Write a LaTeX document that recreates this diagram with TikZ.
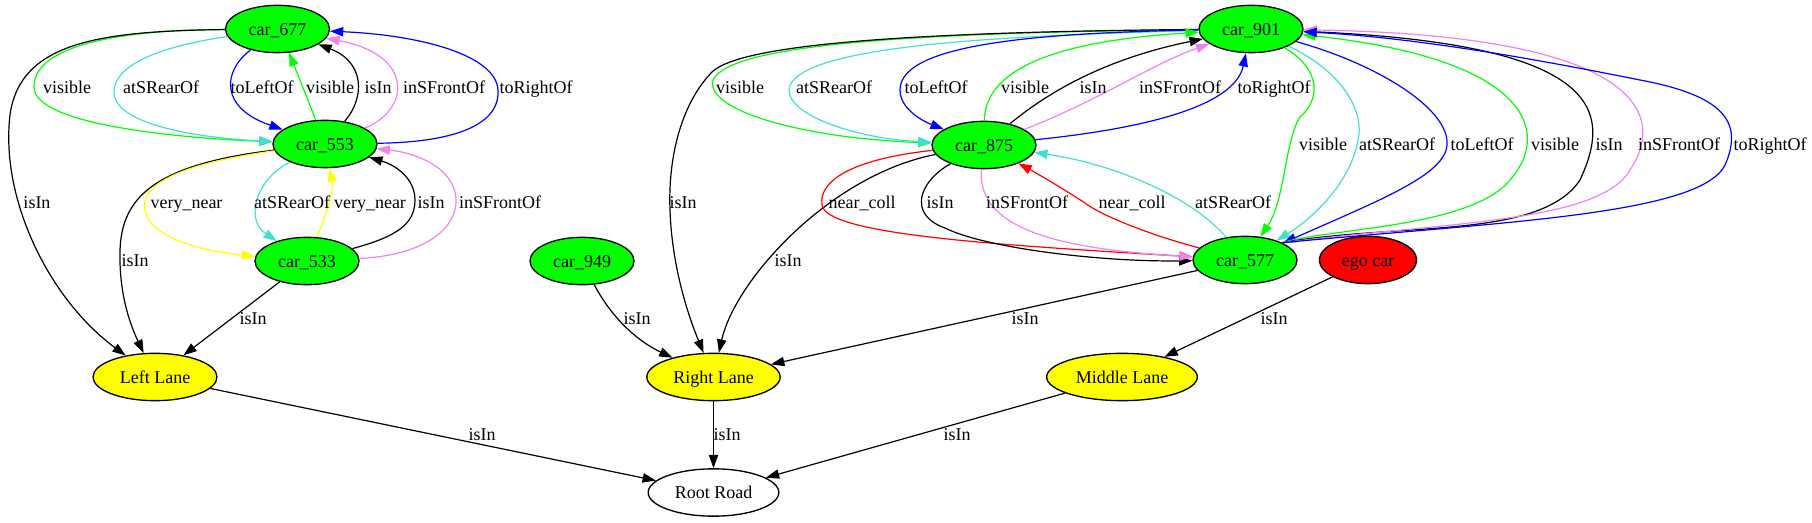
\documentclass[tikz,border=0pt]{standalone}
\usepackage{fontspec}
\setmainfont{Liberation Serif}
\usetikzlibrary{shapes.geometric,arrows.meta}
\definecolor{cgreen}{RGB}{0,255,0}
\definecolor{cturq}{RGB}{64,224,208}
\definecolor{cblue}{RGB}{0,0,255}
\definecolor{cviolet}{RGB}{238,130,238}
\definecolor{cyellow}{RGB}{255,255,0}
\definecolor{cred}{RGB}{255,0,0}
\tikzset{
  gvtext/.style={font=\fontsize{13.5pt}{16pt}\selectfont, text height=9.2pt, text depth=0pt},
  gvnode/.style={ellipse, draw=black, line width=1pt, inner sep=0pt, minimum height=35.5pt, gvtext},
  carnode/.style={gvnode, fill=cgreen, minimum width=78pt},
  egonode/.style={gvnode, fill=cred, minimum width=73pt},
  lanenode/.style={gvnode, fill=cyellow},
  roadnode/.style={gvnode, fill=white},
  lab/.style={inner sep=0pt, gvtext},
  edg/.style={line width=0.9pt, -{Triangle[length=10pt,width=7pt]}},
}
\begin{document}
\begin{tikzpicture}[x=0.75pt, y=-0.75pt]
\useasboundingbox (0,0) rectangle (1812,523);
% nodes
\node[carnode] (n677) at (277.5,29) {car\_677};
\node[carnode] (n553) at (325,144) {car\_553};
\node[carnode] (n533) at (307,261) {car\_533};
\node[carnode] (n949) at (582,261) {car\_949};
\node[carnode] (n901) at (1251,29) {car\_901};
\node[carnode] (n875) at (984,145) {car\_875};
\node[carnode] (n577) at (1245,260) {car\_577};
\node[egonode] (ego) at (1368,260) {ego car};
\node[lanenode, minimum width=93pt] (LL) at (155,377) {Left Lane};
\node[lanenode, minimum width=100pt] (RL) at (713.5,377) {Right Lane};
\node[lanenode, minimum width=113pt] (ML) at (1122,377) {Middle Lane};
\node[roadnode, minimum width=98pt] (RR) at (713.5,492.5) {Root Road};

% cluster around car_553
\draw[edg,cgreen] (n677) .. controls (120,30) and (34,45) .. (34,87) .. controls (34,125) and (180,138) .. (n553);
\draw[edg,cturq] (n677) .. controls (150,48) and (114,68) .. (114,92) .. controls (114,125) and (200,138) .. (n553);
\draw[edg,cblue] (n677) .. controls (222,72) and (220,108) .. (n553);
\draw[edg,cgreen] (n553.111) -- (n677.296);
\draw[edg,black] (n553) .. controls (365,98) and (365,62) .. (n677);
\draw[edg,cviolet] (n553) .. controls (410,110) and (415,55) .. (n677);
\draw[edg,cblue] (n553) .. controls (470,142) and (500,118) .. (498,90) .. controls (496,55) and (420,35) .. (n677);
\draw[edg,black] (n677) .. controls (100,31) and (20,42) .. (10,115) .. controls (0,200) and (50,300) .. (LL);
\draw[edg,black] (n553) .. controls (150,165) and (122,200) .. (120,250) .. controls (119,290) and (128,320) .. (LL);
\draw[edg,cyellow] (n553) .. controls (170,165) and (140,188) .. (145,210) .. controls (150,240) and (210,252) .. (n533);
\draw[edg,cturq] (n553) .. controls (255,180) and (245,220) .. (n533);
\draw[edg,cyellow] (n533) .. controls (326,215) and (334,190) .. (n553);
\draw[edg,black] (n533) .. controls (395,237) and (415,225) .. (415,200) .. controls (415,178) and (395,165) .. (n553);
\draw[edg,cviolet] (n533) .. controls (430,255) and (457,225) .. (456,200) .. controls (455,165) and (410,152) .. (n553);
\draw[edg,black] (n533) -- (LL);
\draw[edg,black] (LL) -- (RR);
\draw[edg,black] (n949) .. controls (610,315) and (635,340) .. (RL);
\draw[edg,black] (RL) -- (RR);
\draw[edg,black] (ML) -- (RR);
\draw[edg,black] (ego) -- (ML);
\draw[edg,black] (n577) -- (RL);

% cluster around car_875 / car_901 / car_577
\draw[edg,cgreen] (n901) .. controls (900,33) and (730,45) .. (713,80) .. controls (705,110) and (800,138) .. (n875);
\draw[edg,black] (n901) .. controls (900,32) and (740,45) .. (712,72) .. controls (680,105) and (668,160) .. (670,210) .. controls (672,270) and (690,320) .. (RL);
\draw[edg,cturq] (n901) .. controls (1000,36) and (810,45) .. (790,85) .. controls (780,112) and (850,138) .. (n875);
\draw[edg,cblue] (n901) .. controls (1030,33) and (900,45) .. (900,90) .. controls (900,110) and (925,122) .. (n875);
\draw[edg,cgreen] (n875) .. controls (985,75) and (1040,42) .. (n901);
\draw[edg,black] (n875) .. controls (1045,95) and (1100,60) .. (n901);
\draw[edg,cviolet] (n875) .. controls (1100,100) and (1150,65) .. (n901);
\draw[edg,cblue] (n875) .. controls (1150,128) and (1235,105) .. (n901);
\draw[edg,black] (n875) .. controls (830,175) and (735,280) .. (RL);
\draw[edg,cred] (n875) .. controls (860,158) and (818,178) .. (822,205) .. controls (826,235) and (1000,245) .. (n577);
\draw[edg,black] (n875) .. controls (918,182) and (908,215) .. (945,228) .. controls (985,248) and (1100,262) .. (n577);
\draw[edg,cviolet] (n875) .. controls (975,235) and (1080,250) .. (n577);
\draw[edg,cred] (n577) .. controls (1150,235) and (1100,215) .. (1085,203) .. controls (1065,190) and (1040,175) .. (n875);
\draw[edg,cturq] (n577) .. controls (1195,200) and (1120,165) .. (n875);
\draw[edg,cgreen] (n901) .. controls (1315,65) and (1325,95) .. (1300,117) .. controls (1285,140) and (1285,200) .. (n577);
\draw[edg,cturq] (n901) .. controls (1340,70) and (1365,110) .. (1358,140) .. controls (1350,185) and (1310,220) .. (n577);
\draw[edg,cblue] (n901) .. controls (1380,65) and (1450,110) .. (1447,145) .. controls (1445,175) and (1380,200) .. (n577);
\draw[edg,cgreen] (n577.25) .. controls (1330,228) and (1470,228) .. (1510,180) .. controls (1550,135) and (1535,60) .. (n901);
\draw[edg,black] (n577.25) .. controls (1400,222) and (1540,240) .. (1580,180) .. controls (1610,115) and (1610,45) .. (n901);
\draw[edg,cviolet] (n577.25) .. controls (1450,222) and (1600,222) .. (1630,170) .. controls (1670,110) and (1630,35) .. (n901);
\draw[edg,cblue] (n577.25) .. controls (1500,222) and (1700,215) .. (1725,165) .. controls (1745,120) and (1720,95) .. (1640,80) .. controls (1540,60) and (1420,38) .. (n901);

% labels
\node[lab] (l1) at (67,87) {visible};
\node[lab] (l2) at (161,87) {atSRearOf};
\node[lab] (l3) at (262,87) {toLeftOf};
\node[lab] (l4) at (330,87) {visible};
\node[lab] (l5) at (378,87) {isIn};
\node[lab] (l6) at (444,87) {inSFrontOf};
\node[lab] (l7) at (536,87) {toRightOf};
\node[lab] (l8) at (740,87) {visible};
\node[lab] (l9) at (834,87) {atSRearOf};
\node[lab] (l10) at (936,87) {toLeftOf};
\node[lab] (l11) at (1025,87) {visible};
\node[lab] (l12) at (1093,87) {isIn};
\node[lab] (l13) at (1180,87) {inSFrontOf};
\node[lab] (l14) at (1274,87) {toRightOf};
\node[lab] (l15) at (1323,144) {visible};
\node[lab] (l16) at (1397,144) {atSRearOf};
\node[lab] (l17) at (1482,144) {toLeftOf};
\node[lab] (l18) at (1555,144) {visible};
\node[lab] (l19) at (1609,144) {isIn};
\node[lab] (l20) at (1679,144) {inSFrontOf};
\node[lab] (l21) at (1770,144) {toRightOf};
\node[lab] (l22) at (37,202) {isIn};
\node[lab] (l23) at (186.5,202) {very\_near};
\node[lab] (l24) at (292,202) {atSRearOf};
\node[lab] (l25) at (370,202) {very\_near};
\node[lab] (l26) at (431,202) {isIn};
\node[lab] (l27) at (500,202) {inSFrontOf};
\node[lab] (l28) at (683,202) {isIn};
\node[lab] (l29) at (862,202) {near\_coll};
\node[lab] (l30) at (940,202) {isIn};
\node[lab] (l31) at (1027,202) {inSFrontOf};
\node[lab] (l32) at (1132,202) {near\_coll};
\node[lab] (l33) at (1233,202) {atSRearOf};
\node[lab] (l34) at (135,260) {isIn};
\node[lab] (l35) at (788,260) {isIn};
\node[lab] (l36) at (253,318) {isIn};
\node[lab] (l37) at (637,318) {isIn};
\node[lab] (l38) at (1025,318) {isIn};
\node[lab] (l39) at (1274,318) {isIn};
\node[lab] (l40) at (482,434) {isIn};
\node[lab] (l41) at (727,434) {isIn};
\node[lab] (l42) at (957,434) {isIn};
\end{tikzpicture}
\end{document}
